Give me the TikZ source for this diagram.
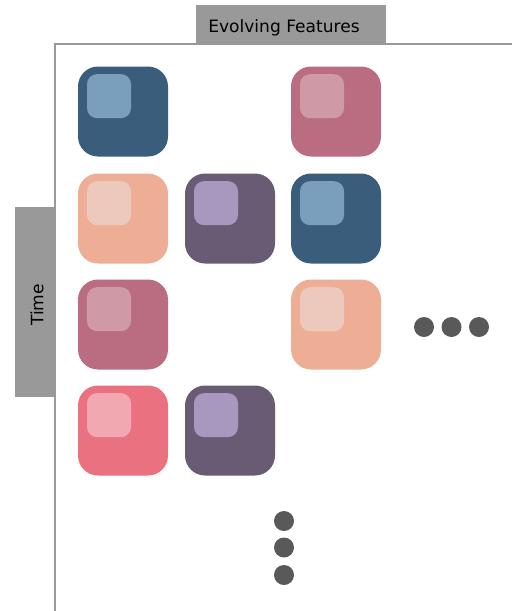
\documentclass[tikz,border=0pt]{standalone}
\usepackage{fontspec}
\setmainfont{DejaVu Sans}
\definecolor{axisgray}{HTML}{999999}
\definecolor{dotgray}{HTML}{595959}
\definecolor{cblue}{HTML}{3A5D7C}\definecolor{iblue}{HTML}{7A9FBC}
\definecolor{cmauve}{HTML}{BA6C80}\definecolor{imauve}{HTML}{CF9AA6}
\definecolor{csalmon}{HTML}{EEAE96}\definecolor{isalmon}{HTML}{EDC8BC}
\definecolor{cpurple}{HTML}{6A5B75}\definecolor{ipurple}{HTML}{A898C0}
\definecolor{cred}{HTML}{EA717F}\definecolor{ired}{HTML}{F2A8B0}
\begin{document}
\begin{tikzpicture}[x=0.75pt,y=-0.75pt,
  tile/.style={minimum size=67.5pt,inner sep=0pt,rounded corners=15pt,fill=#1,draw=none},
  inner/.style={minimum size=33pt,inner sep=0pt,rounded corners=7.5pt,fill=#1,draw=none},
  dot/.style={circle,fill=dotgray,minimum size=15pt,inner sep=0pt,draw=none},
  axis/.style={draw=axisgray,line width=1.5pt},
  labelbox/.style={fill=axisgray,draw=none}]
\useasboundingbox (0,0) rectangle (512,611);
% label boxes
\fill[labelbox] (196,5) rectangle (386,44);
\node[anchor=west,font=\fontsize{12.8}{15}\selectfont,inner sep=0pt] (feat) at (208,27.5) {Evolving Features};
\fill[labelbox] (15,207) rectangle (55,397);
\node[rotate=90,font=\fontsize{12.8}{15}\selectfont,inner sep=0pt] (time) at (37,305) {Time};
% axes
\coordinate (corner) at (55,44);
\coordinate (xend) at (512,44);
\coordinate (yend) at (55,611);
\draw[axis] (xend) -- (corner) -- (yend);
% tiles
\foreach \n/\cx/\cy/\c in {a/123/111.5/blue, b/336/111.5/mauve,
  c/123/218.5/salmon, d/230/218.5/purple, e/336/218.5/blue,
  f/123/324.5/mauve, g/336/324.5/salmon,
  h/123/430.5/red, i/230/430.5/purple}{
  \node[tile=c\c] (\n) at (\cx,\cy) {};
  \node[inner=i\c] (\n i) at ([xshift=-10.5pt,yshift=11.5pt]\n.center) {};
}
% dots
\node[dot] (h1) at (424,327) {};
\node[dot] (h2) at (451.5,327) {};
\node[dot] (h3) at (479,327) {};
\node[dot] (v1) at (284,521) {};
\node[dot] (v2) at (284,547.5) {};
\node[dot] (v3) at (284,575) {};
\end{tikzpicture}
\end{document}
